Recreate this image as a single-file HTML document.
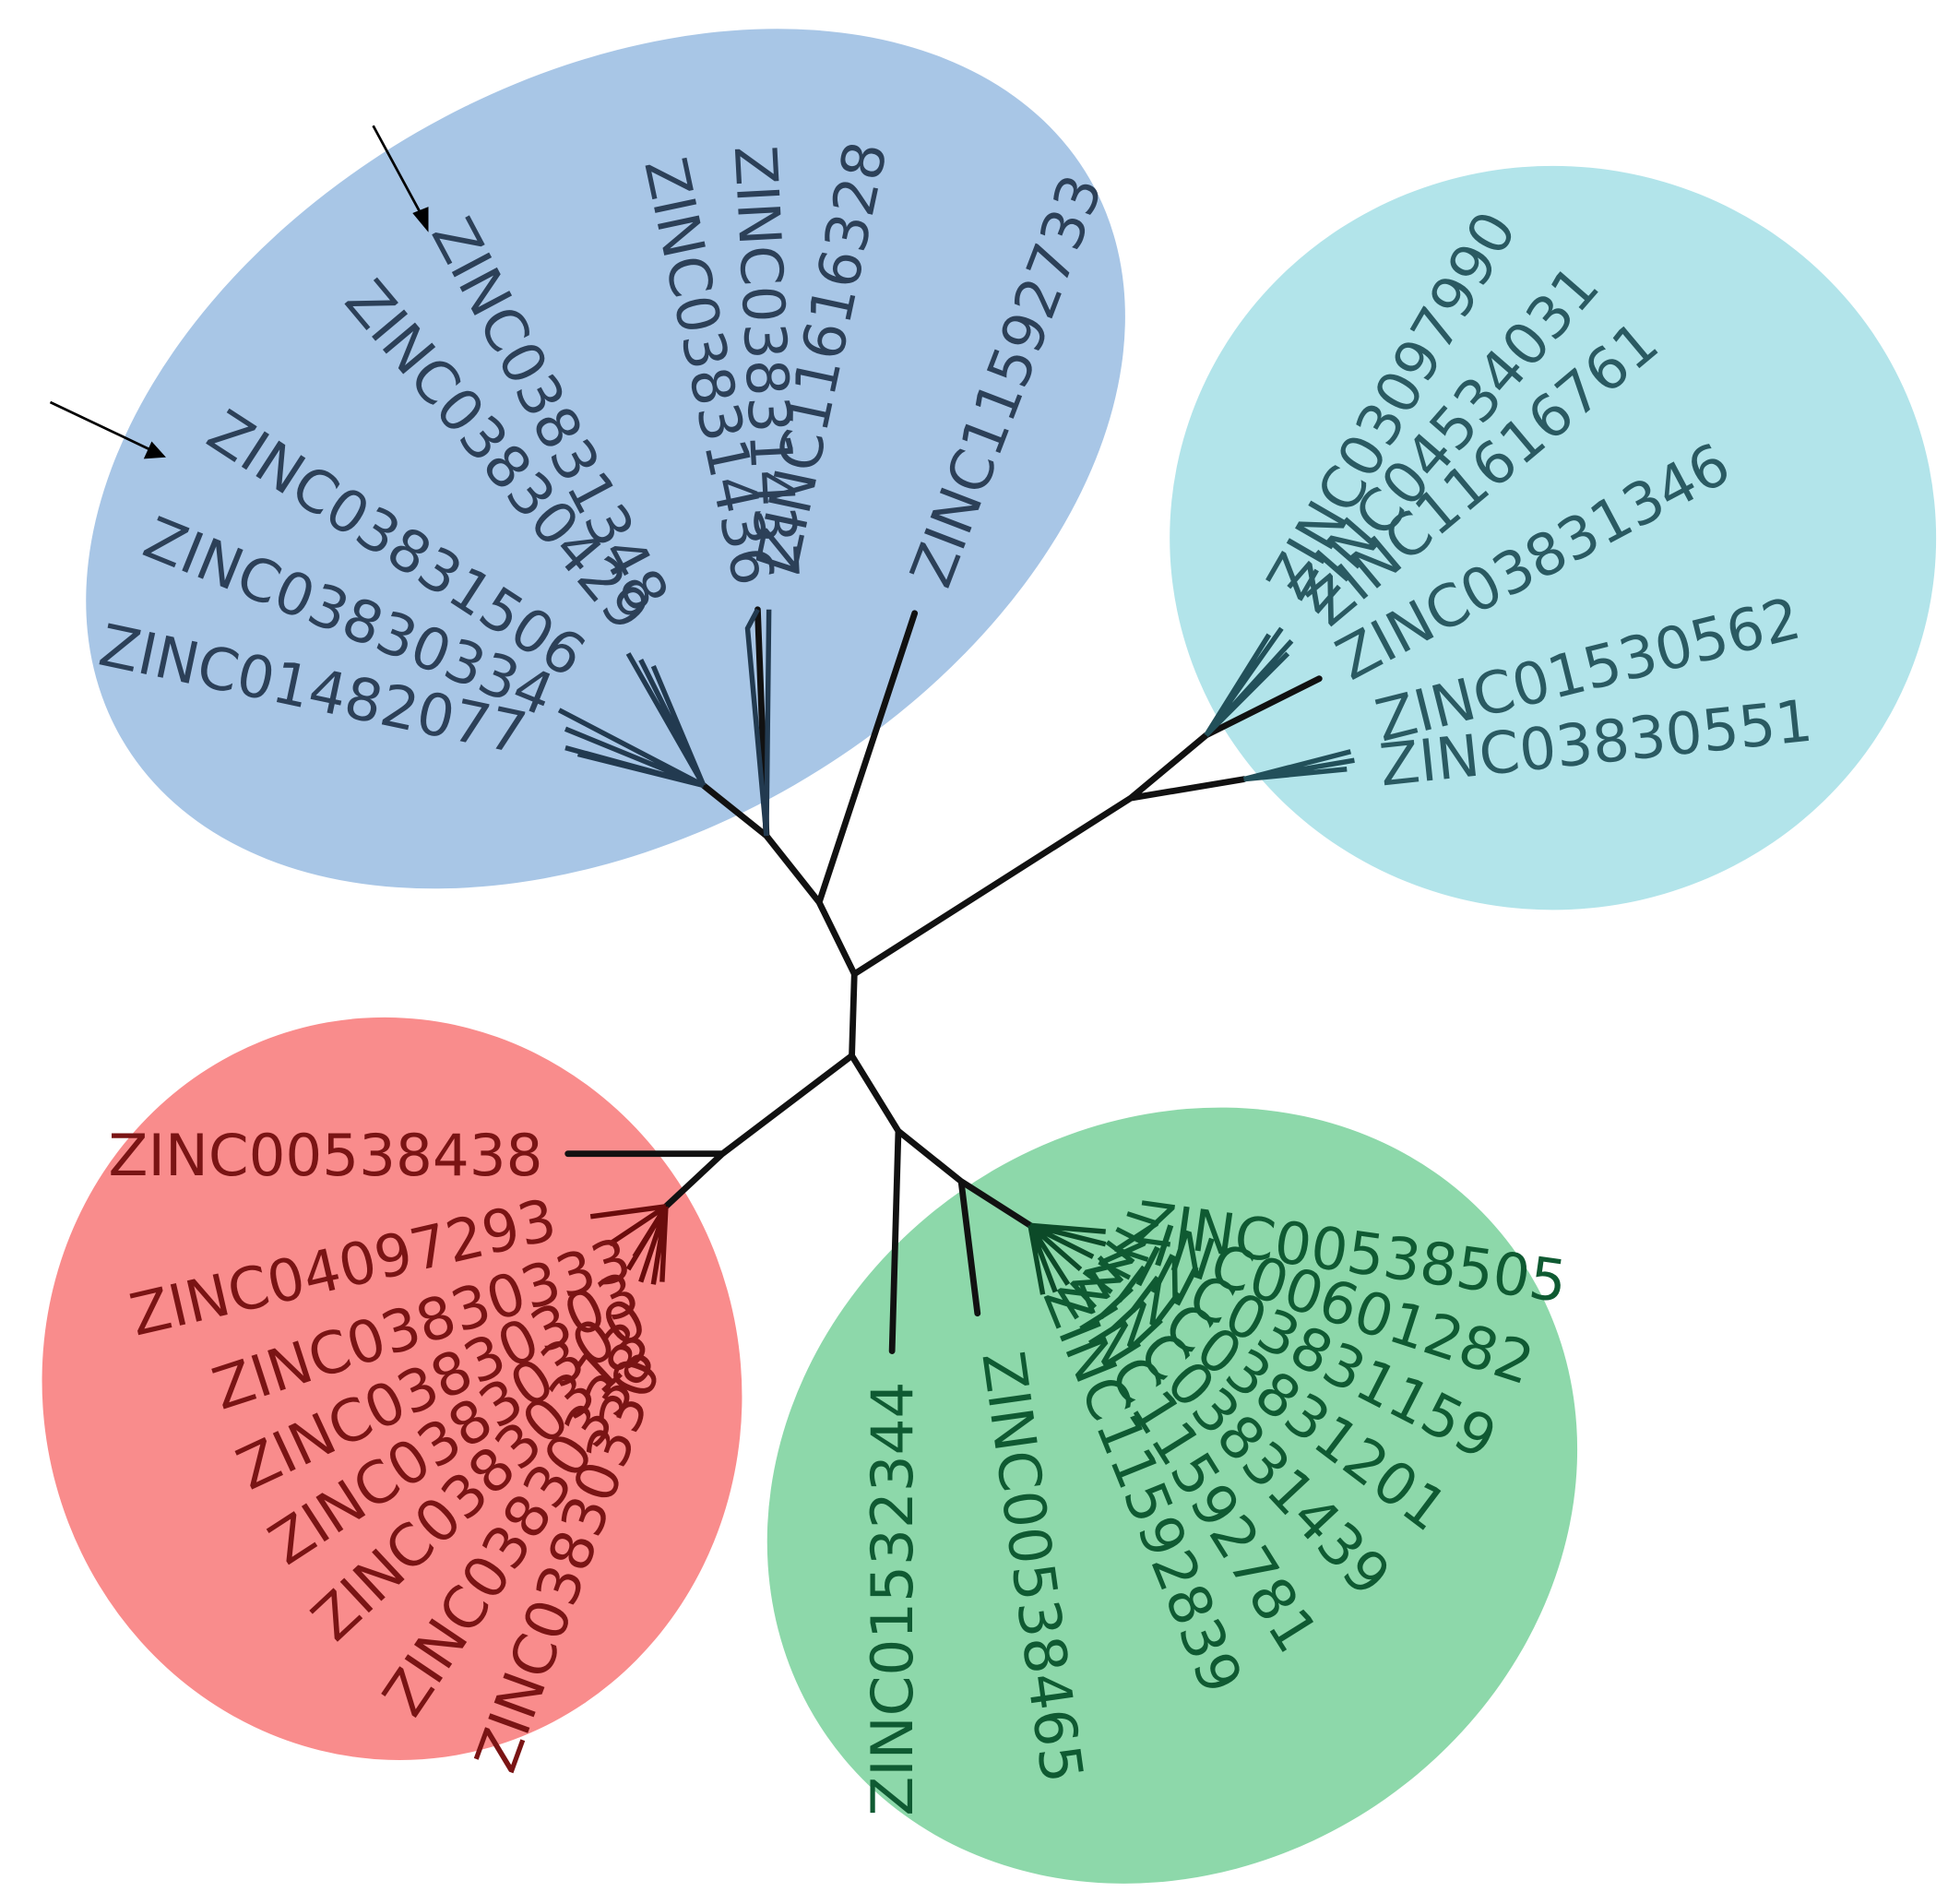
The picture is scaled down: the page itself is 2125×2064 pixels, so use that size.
<!DOCTYPE html>
<html><head><meta charset="utf-8"><style>html,body{margin:0;padding:0;background:#fff;width:2125px;height:2064px;overflow:hidden}svg{display:block}</style></head>
<body>
<svg width="2125" height="2064" viewBox="0 0 1560 1515" preserveAspectRatio="none" xmlns="http://www.w3.org/2000/svg" font-family="'DejaVu Sans','Liberation Sans',sans-serif" font-size="46">
<ellipse cx="482" cy="365" rx="445" ry="300" transform="rotate(-30 482 365)" fill="#a8c6e6"/>
<ellipse cx="1236" cy="428" rx="305" ry="296" fill="#b2e4ea"/>
<ellipse cx="312" cy="1105" rx="278" ry="296" transform="rotate(-10 312 1105)" fill="#f98c8c"/>
<ellipse cx="933" cy="1190" rx="335" ry="295" transform="rotate(-35 933 1190)" fill="#8dd8aa"/>
<g stroke="#111" stroke-width="5" fill="none" stroke-linecap="round">
<path d="M680 775 L678 840"/>
<path d="M680 775 L900 635 L960 585 M960 585 L1050 540 M900 635 L990 620"/>
<path d="M680 775 L652 718 L728 488 M652 718 L610 665 L603 485 M610 665 L560 625"/>
<path d="M678 840 L575 918 L452 918 M575 918 L530 960"/>
<path d="M678 840 L715 900 L710 1075 M715 900 L765 940 L778 1045 M765 940 L820 975"/>
</g>
<g stroke="#223a50" stroke-width="4" fill="none">
<path d="M560 625 L500 520 M560 625 L510 525 M560 625 L520 530 M560 625 L445 565 M560 625 L450 580 M560 625 L450 595 M560 625 L460 600"/>
<path d="M603 485 L595 500 L610 665 L612 485"/>
</g>
<g stroke="#22505a" stroke-width="4" fill="none">
<path d="M960 585 L1010 505 M960 585 L1020 500 M960 585 L1028 510 M960 585 L1025 520 M990 620 L1075 598 M990 620 L1078 605 M990 620 L1072 612"/>
</g>
<g stroke="#6a0c0c" stroke-width="4" fill="none">
<path d="M530 960 L470 968 M530 960 L485 990 M530 960 L500 1010 M530 960 L510 1020 M530 960 L520 1022 M530 960 L527 1020 M530 960 L505 1000"/>
</g>
<g stroke="#0c4a28" stroke-width="4" fill="none">
<path d="M820 975 L880 980 M820 975 L880 990 M820 975 L870 1000 M820 975 L860 1010 M820 975 L850 1022 M820 975 L840 1028 M820 975 L830 1030"/>
</g>
<g fill="#2c4058">
<text x="415" y="600" text-anchor="end" transform="rotate(12 415 600)">ZINC01482077</text>
<text x="432" y="570" text-anchor="end" transform="rotate(22 432 570)">ZINC03830334</text>
<text x="452" y="540" text-anchor="end" transform="rotate(33 452 540)">ZINC03831506</text>
<text x="495" y="505" text-anchor="end" transform="rotate(50 495 505)">ZINC03830429</text>
<text x="505" y="490" text-anchor="end" transform="rotate(62 505 490)">ZINC03831348</text>
<text x="585" y="468" text-anchor="end" transform="rotate(78 585 468)">ZINC03831436</text>
<text x="603" y="462" text-anchor="end" transform="rotate(87 603 462)">ZINC03831437</text>
<text x="634" y="455" transform="rotate(-78 634 455)">ZINC11616328</text>
<text x="754" y="470" transform="rotate(-69 754 470)">ZINC11592733</text>
</g>
<g fill="#2a5a62">
<text x="1035" y="480" transform="rotate(-60 1035 480)">ZINC03097990</text>
<text x="1048" y="490" transform="rotate(-49 1048 490)">ZINC04534031</text>
<text x="1058" y="500" transform="rotate(-40 1058 500)">ZINC11616761</text>
<text x="1075" y="542" transform="rotate(-28 1075 542)">ZINC03831346</text>
<text x="1100" y="590" transform="rotate(-14 1100 590)">ZINC01530562</text>
<text x="1100" y="625" transform="rotate(-6 1100 625)">ZINC03830551</text>
</g>
<g fill="#7a1414">
<text x="432" y="935" text-anchor="end">ZINC00538438</text>
<text x="445" y="985" text-anchor="end" transform="rotate(-13 445 985)">ZINC04097293</text>
<text x="505" y="1015" text-anchor="end" transform="rotate(-18 505 1015)">ZINC03830333</text>
<text x="512" y="1040" text-anchor="end" transform="rotate(-25 512 1040)">ZINC03830303</text>
<text x="518" y="1058" text-anchor="end" transform="rotate(-33 518 1058)">ZINC03830300</text>
<text x="520" y="1072" text-anchor="end" transform="rotate(-43 520 1072)">ZINC03830313</text>
<text x="523" y="1082" text-anchor="end" transform="rotate(-56 523 1082)">ZINC03830338</text>
<text x="526" y="1088" text-anchor="end" transform="rotate(-70 526 1088)">ZINC03830330</text>
</g>
<g fill="#0f5a32">
<text x="902" y="988" transform="rotate(8 902 988)">ZINC00538505</text>
<text x="885" y="995" transform="rotate(18 885 995)">ZINC00601282</text>
<text x="872" y="1005" transform="rotate(27 872 1005)">ZINC03831159</text>
<text x="860" y="1012" transform="rotate(37 860 1012)">ZINC03831201</text>
<text x="850" y="1020" transform="rotate(47 850 1020)">ZINC03831439</text>
<text x="840" y="1025" transform="rotate(58 840 1025)">ZINC11592781</text>
<text x="830" y="1030" transform="rotate(68 830 1030)">ZINC11592839</text>
<text x="726" y="1445" transform="rotate(-90 726 1445)">ZINC01532344</text>
<text x="782" y="1078" transform="rotate(82 782 1078)">ZINC00538465</text>
</g>
<g stroke="#000" stroke-width="2" fill="#000">
<line x1="297" y1="100" x2="336" y2="172"/>
<polygon points="340,182 330,170 340,166"/>
<line x1="40" y1="320" x2="120" y2="358"/>
<polygon points="130,363 116,364 121,353"/>
</g>
</svg>
</body></html>
